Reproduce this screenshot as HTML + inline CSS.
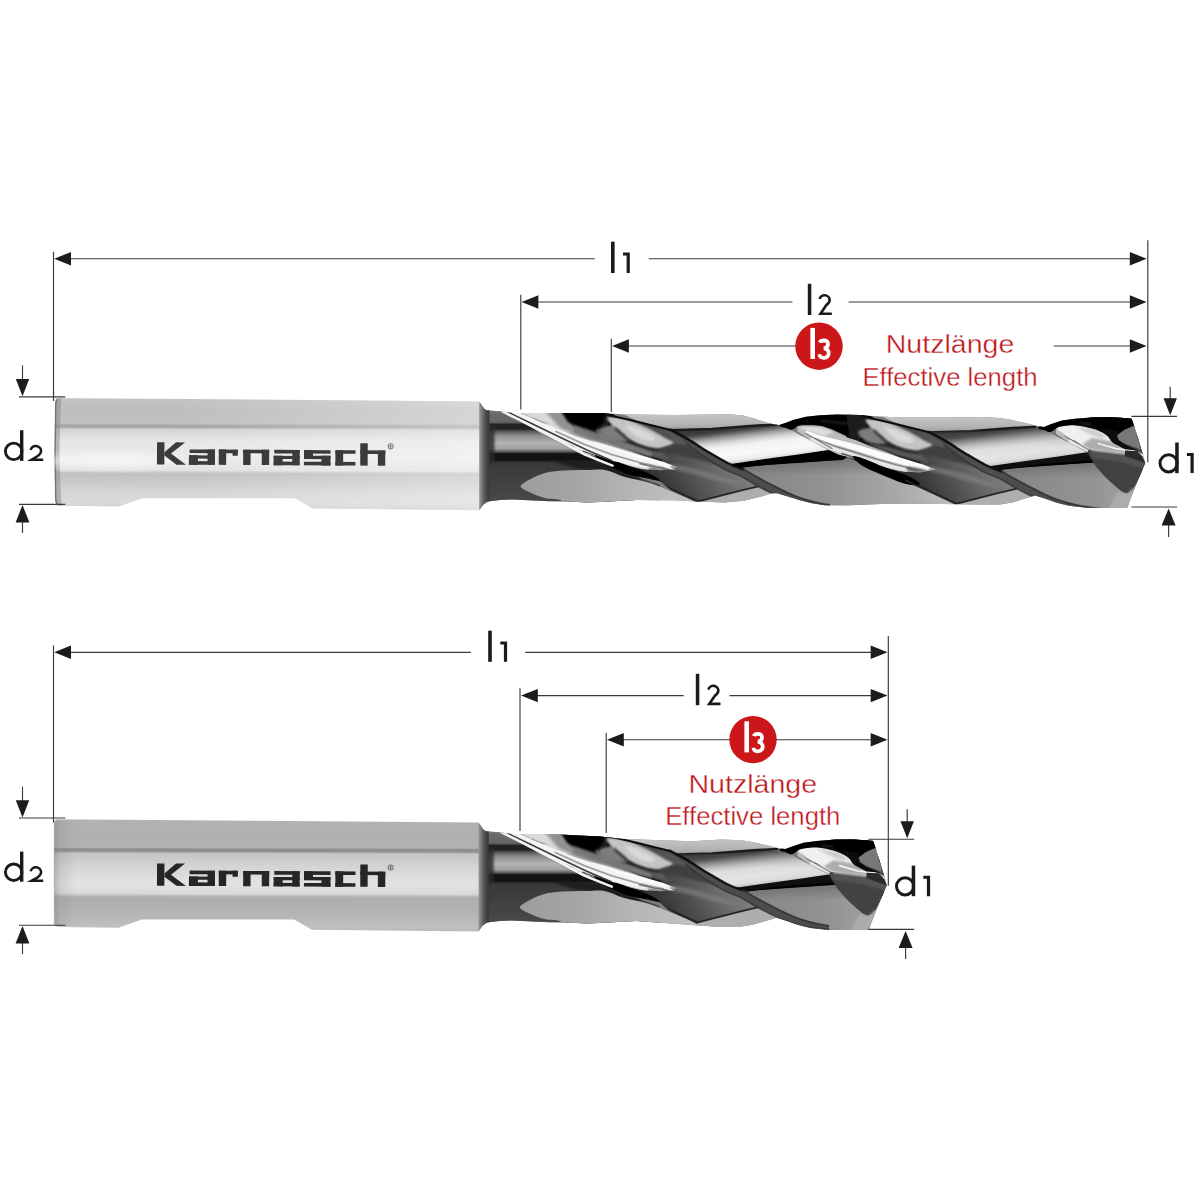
<!DOCTYPE html>
<html><head><meta charset="utf-8"><title>Drill dimensions</title>
<style>
html,body{margin:0;padding:0;background:#fff;}
svg{display:block;}
.rt{font-family:"Liberation Sans",sans-serif;font-size:25.6px;fill:#bd141a;stroke:#fff;stroke-width:0.35px;}
</style></head><body>
<svg width="1200" height="1200" viewBox="0 0 1200 1200">
<defs>
<linearGradient id="sg1" gradientUnits="userSpaceOnUse" x1="0" y1="398" x2="0" y2="511" gradientTransform="rotate(0.12 55 450)"><stop offset="0.0000" stop-color="#d0d0d0"/><stop offset="0.0115" stop-color="#c3c3c3"/><stop offset="0.1150" stop-color="#bebebe"/><stop offset="0.2239" stop-color="#c0c0c0"/><stop offset="0.2372" stop-color="#a8a8a8"/><stop offset="0.2593" stop-color="#a8a8a8"/><stop offset="0.2743" stop-color="#d3d3d3"/><stop offset="0.3805" stop-color="#e6e6e6"/><stop offset="0.5221" stop-color="#ebebeb"/><stop offset="0.6372" stop-color="#e2e2e2"/><stop offset="0.6637" stop-color="#c0c0c0"/><stop offset="0.6920" stop-color="#c3c3c3"/><stop offset="0.8407" stop-color="#d6d6d6"/><stop offset="0.9292" stop-color="#dadada"/><stop offset="0.9602" stop-color="#d2d2d2"/><stop offset="1.0000" stop-color="#d0d0d0"/></linearGradient><linearGradient id="shlsg1" gradientUnits="userSpaceOnUse" x1="180" y1="0" x2="480" y2="0"><stop offset="0" stop-color="#fff" stop-opacity="0"/><stop offset="1" stop-color="#fff" stop-opacity="0.36"/></linearGradient><linearGradient id="sg2" gradientUnits="userSpaceOnUse" x1="0" y1="819.2" x2="0" y2="932.2" gradientTransform="rotate(0.12 55 871.2)"><stop offset="0.0000" stop-color="#bebebe"/><stop offset="0.0115" stop-color="#b2b2b2"/><stop offset="0.1150" stop-color="#b0b0b0"/><stop offset="0.2478" stop-color="#b2b2b2"/><stop offset="0.2619" stop-color="#8e8e8e"/><stop offset="0.2832" stop-color="#909090"/><stop offset="0.2991" stop-color="#c4c4c4"/><stop offset="0.4159" stop-color="#d4d4d4"/><stop offset="0.5664" stop-color="#e3e3e3"/><stop offset="0.6549" stop-color="#dadada"/><stop offset="0.6814" stop-color="#b4b4b4"/><stop offset="0.7027" stop-color="#aeaeae"/><stop offset="0.8584" stop-color="#b6b6b6"/><stop offset="0.9469" stop-color="#c0c0c0"/><stop offset="0.9690" stop-color="#bcbcbc"/><stop offset="1.0000" stop-color="#b8b8b8"/></linearGradient><linearGradient id="shlsg2" gradientUnits="userSpaceOnUse" x1="180" y1="0" x2="480" y2="0"><stop offset="0" stop-color="#fff" stop-opacity="0"/><stop offset="1" stop-color="#fff" stop-opacity="0.36"/></linearGradient><linearGradient id="shd" x1="0" x2="1" y1="0" y2="0"><stop offset="0" stop-color="#777" stop-opacity="0.45"/><stop offset="0.3" stop-color="#888" stop-opacity="0.2"/><stop offset="1" stop-color="#888" stop-opacity="0"/></linearGradient><clipPath id="sil1"><polygon points="479.5,401.9 481.0,404.0 484.0,408.5 486.5,410.2 492.0,410.8 500.0,411.3 512.5,413.0 550.0,413.1 600.0,413.1 625.0,414.6 675.0,415.0 712.0,414.4 730.0,414.3 743.0,415.6 755.0,418.8 767.0,422.7 775.0,424.6 779.0,425.0 786.0,422.7 793.0,420.0 806.0,416.8 820.0,415.2 837.0,414.4 860.0,415.0 875.0,416.2 900.0,417.5 950.0,417.6 980.0,417.0 1000.0,418.1 1012.0,420.0 1025.0,423.1 1037.0,426.1 1044.0,426.9 1050.0,424.6 1062.0,420.6 1075.0,418.8 1094.0,417.3 1112.0,417.2 1131.5,418.6 1134.0,425.5 1139.0,441.5 1142.7,454.0 1145.2,463.0 1137.5,481.3 1130.0,500.0 1127.5,507.6 1100.0,507.9 1087.0,507.7 1069.0,505.8 1056.0,502.6 1044.0,498.2 1035.0,495.6 1025.0,498.6 1012.0,502.4 1000.0,504.4 975.0,504.6 925.0,503.8 887.0,503.8 850.0,505.2 825.0,505.2 812.0,503.2 800.0,500.2 787.0,496.3 777.0,493.2 772.0,493.2 762.0,496.3 744.0,500.7 725.0,502.5 695.0,501.6 675.0,500.2 637.0,500.0 600.0,501.9 587.0,502.5 562.0,501.3 550.0,501.2 512.5,499.4 500.0,500.0 487.5,501.4 483.0,505.0 479.5,510.0"/></clipPath>
<clipPath id="sil2"><polygon points="478.8,822.9 480.3,825.0 483.3,829.5 485.8,831.2 491.3,831.8 499.3,832.3 511.8,834.0 549.3,834.1 599.3,836.4 624.3,839.0 691.5,841.2 721.5,839.5 741.5,840.3 753.5,842.2 766.5,845.3 778.5,848.3 785.5,849.1 791.5,846.8 803.5,842.8 816.5,841.0 835.5,839.5 853.5,839.4 873.0,840.8 875.5,847.7 880.5,863.7 884.2,876.2 886.7,885.2 879.0,903.5 871.5,922.2 869.0,929.8 841.5,930.1 828.5,929.9 810.5,928.0 797.5,924.8 785.5,920.4 776.5,917.8 766.5,920.8 753.5,924.6 741.5,926.6 716.5,926.8 636.3,921.0 599.3,922.9 586.3,923.5 561.3,922.3 549.3,922.2 511.8,920.4 499.3,921.0 486.8,922.4 482.3,926.0 478.8,931.0"/></clipPath>
<filter id="b1" x="-30%" y="-30%" width="160%" height="160%"><feGaussianBlur stdDeviation="0.6"/></filter>
<filter id="b2" x="-30%" y="-30%" width="160%" height="160%"><feGaussianBlur stdDeviation="1.1"/></filter>
<filter id="b3" x="-30%" y="-30%" width="160%" height="160%"><feGaussianBlur stdDeviation="1.8"/></filter>
<filter id="b4" x="-30%" y="-30%" width="160%" height="160%"><feGaussianBlur stdDeviation="3.0"/></filter>
<filter id="b5" x="-30%" y="-30%" width="160%" height="160%"><feGaussianBlur stdDeviation="5.0"/></filter>
<linearGradient id="neckg" gradientUnits="userSpaceOnUse" x1="0" y1="410" x2="0" y2="504"><stop offset="0" stop-color="#8a8a8a"/><stop offset="0.03" stop-color="#6c6c6c"/><stop offset="0.13" stop-color="#646464"/><stop offset="0.155" stop-color="#222"/><stop offset="0.2" stop-color="#222"/><stop offset="0.225" stop-color="#555"/><stop offset="0.27" stop-color="#8c8c8c"/><stop offset="0.35" stop-color="#b4b4b4"/><stop offset="0.41" stop-color="#a0a0a0"/><stop offset="0.445" stop-color="#5a5a5a"/><stop offset="0.465" stop-color="#121212"/><stop offset="0.53" stop-color="#121212"/><stop offset="0.56" stop-color="#383838"/><stop offset="0.8" stop-color="#424242"/><stop offset="1" stop-color="#4a4a4a"/></linearGradient>
<linearGradient id="landg" gradientUnits="userSpaceOnUse" x1="757" y1="426" x2="762" y2="466.5"><stop offset="0" stop-color="#3a3a3a"/><stop offset="0.06" stop-color="#4c4c4c"/><stop offset="0.18" stop-color="#9a9a9a"/><stop offset="0.3" stop-color="#d4d4d4"/><stop offset="0.42" stop-color="#f2f2f2"/><stop offset="0.62" stop-color="#f8f8f8"/><stop offset="0.76" stop-color="#eeeeee"/><stop offset="0.83" stop-color="#cfcfcf"/><stop offset="0.885" stop-color="#858585"/><stop offset="0.915" stop-color="#1c1c1c"/><stop offset="1" stop-color="#050505"/></linearGradient>
<linearGradient id="underg" gradientUnits="userSpaceOnUse" x1="745" y1="0" x2="960" y2="0"><stop offset="0" stop-color="#858585"/><stop offset="0.4" stop-color="#939393"/><stop offset="0.7" stop-color="#a8a8a8"/><stop offset="1" stop-color="#c2c2c2"/></linearGradient>
<linearGradient id="undertop" gradientUnits="userSpaceOnUse" x1="0" y1="456" x2="0" y2="476"><stop offset="0" stop-color="#3a3a3a" stop-opacity="0.45"/><stop offset="1" stop-color="#3a3a3a" stop-opacity="0"/></linearGradient>
<linearGradient id="ellg" gradientUnits="userSpaceOnUse" x1="520" y1="0" x2="700" y2="0"><stop offset="0" stop-color="#9c9c9c"/><stop offset="0.35" stop-color="#a6a6a6"/><stop offset="0.6" stop-color="#b4b4b4"/><stop offset="1" stop-color="#c4c4c4"/></linearGradient>
<linearGradient id="chg" gradientUnits="userSpaceOnUse" x1="479.5" y1="0" x2="489.5" y2="0"><stop offset="0" stop-color="#969696"/><stop offset="0.3" stop-color="#707070"/><stop offset="0.65" stop-color="#4a4a4a"/><stop offset="1" stop-color="#383838"/></linearGradient>
<linearGradient id="dimg" gradientUnits="userSpaceOnUse" x1="0" y1="428" x2="0" y2="468"><stop offset="0" stop-color="#4a4a4a" stop-opacity="0.42"/><stop offset="0.45" stop-color="#666" stop-opacity="0.16"/><stop offset="1" stop-color="#777" stop-opacity="0.12"/></linearGradient>
<linearGradient id="capg" gradientUnits="userSpaceOnUse" x1="0" y1="414" x2="0" y2="431"><stop offset="0" stop-color="#c6c6c6"/><stop offset="0.6" stop-color="#b4b4b4"/><stop offset="1" stop-color="#989898"/></linearGradient>
<linearGradient id="intg" gradientUnits="userSpaceOnUse" x1="1000" y1="440" x2="900" y2="500"><stop offset="0" stop-color="#8a8a8a"/><stop offset="0.3" stop-color="#6c6c6c"/><stop offset="0.6" stop-color="#4a4a4a"/><stop offset="0.85" stop-color="#2e2e2e"/><stop offset="1" stop-color="#1c1c1c"/></linearGradient>
<g id="uA"><polygon points="736.0,466.0 790.0,461.0 843.8,458.6 850.0,458.8 862.0,463.0 875.0,470.0 906.0,481.0 930.0,492.0 956.0,504.0 960.0,512.0 780.0,512.0 800.0,501.0 781.0,492.5 762.5,481.0 748.0,472.0" fill="url(#underg)"/><polygon points="736.0,458.0 850.0,450.0 880.0,468.0 906.0,481.0 915.0,486.0 736.0,486.0" fill="url(#undertop)"/><polygon points="668.0,429.5 700.0,428.4 750.0,425.6 785.0,426.6 800.0,435.0 829.0,450.3 845.0,457.5 843.0,460.0 790.0,463.0 736.0,467.5 728.0,463.5 706.0,451.0 687.5,438.8" fill="url(#landg)"/><polygon points="622.0,410.0 780.0,410.0 780.0,425.0 775.0,424.6 750.0,425.8 712.0,428.9 670.0,430.2 641.0,422.5 625.0,415.0" fill="url(#capg)"/><polyline points="669.0,430.4 712.0,429.0 750.0,426.0 777.0,424.6" fill="none" stroke="#1e1e1e" stroke-width="2.6" stroke-linecap="round" stroke-linejoin="round" filter="url(#b1)"/><polygon points="731.0,464.0 760.0,459.8 800.0,454.2 830.0,449.8 848.0,456.6 843.8,459.2 800.0,462.8 760.0,465.6 738.0,468.2" fill="#050505" filter="url(#b1)"/></g>
<g id="uB"><polygon points="846.0,434.0 862.0,416.0 900.0,425.0 928.5,432.3 946.5,441.9 964.5,453.3 985.8,465.6 1001.8,472.0 1030.0,487.5 1020.0,491.0 1000.0,492.5 956.0,503.8 930.0,492.0 906.0,481.0 875.0,470.0 850.0,458.0" fill="url(#intg)"/><path d="M779.0,425.4 C779.0,424.4 781.5,423.8 786.0,422.2 C790.5,420.6 797.5,417.4 806.0,416.0 C814.5,414.6 828.0,413.9 837.0,413.6 C846.0,413.3 854.2,413.9 860.0,414.4 C865.8,414.9 869.7,415.3 872.0,416.6 C874.3,417.9 874.7,420.1 874.0,422.0 C873.3,423.9 869.7,426.0 868.0,428.0 C866.3,430.0 864.3,432.0 864.0,434.0 C863.7,436.0 867.0,439.0 866.0,440.0 C865.0,441.0 861.2,440.7 858.0,440.0 C854.8,439.3 851.0,437.6 847.0,436.0 C843.0,434.4 838.5,431.9 834.0,430.2 C829.5,428.5 824.7,426.7 820.0,425.8 C815.3,424.9 809.7,424.9 806.0,425.0 C802.3,425.1 800.3,425.4 798.0,426.2 C795.7,427.0 794.0,429.5 792.0,429.8 C790.0,430.1 788.2,428.7 786.0,428.0 C783.8,427.3 779.0,426.4 779.0,425.4Z" fill="#050505" filter="url(#b1)"/><polyline points="822.0,421.0 846.0,423.5 866.0,428.0" fill="none" stroke="#3a3a3a" stroke-width="1.6" stroke-linecap="round" stroke-linejoin="round" opacity="0.8" filter="url(#b2)"/><polygon points="846.0,412.0 860.0,412.0 868.0,418.5 866.0,430.0 860.0,440.0 850.0,440.0" fill="#1a1a1a" filter="url(#b1)"/><path d="M858.0,432.0 C858.7,429.8 865.7,428.0 870.0,428.0 C874.3,428.0 880.7,429.8 884.0,432.0 C887.3,434.2 890.7,439.0 890.0,441.0 C889.3,443.0 884.0,444.0 880.0,444.0 C876.0,444.0 869.7,443.0 866.0,441.0 C862.3,439.0 857.3,434.2 858.0,432.0Z" fill="#7c7c7c" filter="url(#b2)"/><polygon points="797.5,426.2 822.5,426.6 835.0,431.6 847.5,437.4 856.0,440.0 868.0,445.0 885.0,451.0 900.0,457.2 920.0,463.4 931.0,467.6 936.0,469.4 920.0,472.5 900.0,471.3 875.0,465.5 850.0,457.5 838.0,454.5 828.8,450.0 810.0,440.0 797.5,431.6" fill="#bcbcbc" filter="url(#b1)"/><polygon points="797.5,426.4 816.0,426.4 834.0,431.8 824.0,436.0 806.0,430.4" fill="#e2e2e2" opacity="0.9" filter="url(#b2)"/><polygon points="806.0,430.6 820.0,435.4 840.0,440.2 860.0,445.5 880.0,451.5 900.0,457.5 920.0,463.5 931.0,467.8 928.0,470.0 920.0,469.0 900.0,464.0 880.0,458.5 860.0,452.0 840.0,446.0 820.0,440.6 806.0,434.0" fill="#fbfbfb" filter="url(#b1)"/><polyline points="812.0,439.0 832.0,448.3 850.0,454.2 870.0,460.6 890.0,466.2 906.0,470.0" fill="none" stroke="#e9e9e9" stroke-width="3.6" stroke-linecap="round" stroke-linejoin="round" opacity="0.95" filter="url(#b1)"/><polyline points="815.0,438.2 836.0,446.6 856.0,452.6 876.0,459.0 896.0,464.8 912.0,468.8" fill="none" stroke="#6c6c6c" stroke-width="1.1" stroke-linecap="round" stroke-linejoin="round" opacity="0.8" filter="url(#b1)"/><polyline points="806.0,433.5 820.0,441.5 832.0,448.5" fill="none" stroke="#5a5a5a" stroke-width="1.1" stroke-linecap="round" stroke-linejoin="round" opacity="0.8" filter="url(#b1)"/><polyline points="842.0,453.4 860.0,459.2 876.0,464.6" fill="none" stroke="#3c3c3c" stroke-width="1.6" stroke-linecap="round" stroke-linejoin="round" opacity="0.8" filter="url(#b1)"/><polyline points="847.5,436.6 856.0,439.2 868.0,444.2 885.0,450.2 900.0,456.4 920.0,462.6" fill="none" stroke="#181818" stroke-width="1.8" stroke-linecap="round" stroke-linejoin="round" opacity="0.85" filter="url(#b1)"/><polygon points="866.0,444.0 876.0,445.0 890.0,447.5 906.0,451.0 920.0,453.5 930.0,463.0 900.0,456.0 880.0,449.5" fill="#5c5c5c" opacity="0.9" filter="url(#b2)"/><path d="M866.0,419.5 C868.0,418.2 877.3,419.2 884.0,421.0 C890.7,422.8 899.2,427.0 906.0,430.3 C912.8,433.6 920.7,438.5 925.0,441.0 C929.3,443.5 932.8,443.9 932.0,445.5 C931.2,447.1 924.3,449.9 920.0,450.5 C915.7,451.1 910.8,450.4 906.0,449.2 C901.2,448.0 895.0,445.7 891.0,443.5 C887.0,441.3 885.2,438.4 882.0,436.0 C878.8,433.6 874.7,431.6 872.0,428.8 C869.3,426.1 864.0,420.8 866.0,419.5Z" fill="#c4c4c4" filter="url(#b2)"/><path d="M884.0,427.0 C885.2,426.2 895.0,429.8 900.0,432.0 C905.0,434.2 913.0,438.2 914.0,440.0 C915.0,441.8 909.5,443.5 906.0,443.0 C902.5,442.5 896.7,439.7 893.0,437.0 C889.3,434.3 882.8,427.8 884.0,427.0Z" fill="#dcdcdc" opacity="0.9" filter="url(#b2)"/><path d="M874.0,430.5 C875.0,431.4 878.0,434.2 880.0,436.0 C882.0,437.8 883.8,439.8 886.0,441.5 C888.2,443.2 889.8,444.5 893.0,446.0 C896.2,447.5 900.8,449.4 905.0,450.5 C909.2,451.6 915.8,452.2 918.0,452.5" fill="none" stroke="#181818" stroke-width="2.2" stroke-linecap="round" opacity="0.8" filter="url(#b2)"/><path d="M917.5,452.5 C915.5,450.8 924.7,448.5 928.0,447.5 C931.3,446.5 933.0,445.9 937.5,446.3 C942.0,446.7 949.6,448.1 955.0,450.0 C960.4,451.9 965.7,455.1 970.0,458.0 C974.3,460.9 982.7,466.7 981.0,467.5 C979.3,468.3 966.8,464.6 960.0,463.0 C953.2,461.4 947.1,459.8 940.0,458.0 C932.9,456.2 919.5,454.2 917.5,452.5Z" fill="#3c3c3c" opacity="0.9" filter="url(#b2)"/><path d="M853.0,456.5 C853.1,455.3 858.0,456.7 862.5,458.2 C867.0,459.7 872.8,462.6 880.0,465.4 C887.2,468.2 899.3,471.9 906.0,475.0 C912.7,478.1 920.0,482.5 920.0,484.0 C920.0,485.5 912.7,485.7 906.0,484.0 C899.3,482.3 887.3,477.1 880.0,474.0 C872.7,470.9 866.5,468.5 862.0,465.6 C857.5,462.7 852.9,457.7 853.0,456.5Z" fill="#060606" filter="url(#b1)"/><polyline points="906.0,480.5 930.0,491.5 956.0,503.6" fill="none" stroke="#222" stroke-width="2.4" stroke-linecap="round" stroke-linejoin="round" opacity="0.9" filter="url(#b1)"/><path d="M907.0,467.0 C908.7,466.7 914.7,467.5 918.0,468.2 C921.3,468.9 927.3,470.4 927.0,471.0 C926.7,471.6 919.2,472.0 916.0,471.8 C912.8,471.6 909.5,470.8 908.0,470.0 C906.5,469.2 905.3,467.3 907.0,467.0Z" fill="#444" opacity="0.8" filter="url(#b2)"/><path d="M930.0,466.5 C933.0,466.2 942.5,468.2 950.0,470.0 C957.5,471.8 966.7,474.2 975.0,477.0 C983.3,479.8 1000.0,486.0 1000.0,487.0 C1000.0,488.0 983.3,484.8 975.0,483.0 C966.7,481.2 957.2,477.9 950.0,476.0 C942.8,474.1 935.3,473.1 932.0,471.5 C928.7,469.9 927.0,466.8 930.0,466.5Z" fill="#8a8a8a" opacity="0.55" filter="url(#b3)"/><polygon points="956.0,504.2 1000.0,493.0 1018.0,489.0 1045.0,500.0 1045.0,512.0 956.0,512.0" fill="#aeaeae"/><polyline points="956.0,503.8 1000.0,492.6 1017.0,488.6" fill="none" stroke="#1e1e1e" stroke-width="1.8" stroke-linecap="round" stroke-linejoin="round" opacity="0.9" filter="url(#b1)"/><path d="M928.7,431.9 C931.8,433.3 940.7,438.1 946.7,441.6 C952.7,445.1 958.2,449.0 964.7,453.0 C971.3,456.9 979.8,462.1 986.0,465.2 C992.2,468.4 997.1,469.3 1002.0,471.6 C1006.8,474.0 1010.5,476.6 1015.2,479.1 C1019.9,481.7 1025.2,484.6 1030.2,487.1 C1035.2,489.7 1040.2,492.4 1045.2,494.6 C1050.2,496.9 1054.6,498.8 1060.1,500.6 C1065.6,502.4 1071.8,504.1 1078.1,505.4 C1084.4,506.7 1091.7,507.6 1098.0,508.4 C1104.4,509.2 1111.4,509.6 1116.0,510.0 C1120.7,510.4 1124.4,510.5 1126.0,510.6 C1127.7,510.7 1127.7,510.7 1126.0,510.8 C1124.3,510.9 1120.7,510.9 1116.0,511.0 C1111.2,511.1 1104.2,511.4 1097.7,511.2 C1091.3,511.0 1083.8,510.5 1077.2,509.7 C1070.6,508.9 1064.1,507.8 1058.3,506.3 C1052.4,504.9 1047.5,503.1 1042.3,501.0 C1037.0,498.9 1031.9,496.3 1026.8,493.7 C1021.7,491.2 1016.3,488.2 1011.6,485.6 C1007.0,483.0 1003.7,480.5 998.9,478.1 C994.1,475.8 989.1,474.8 982.8,471.5 C976.6,468.2 968.0,462.5 961.6,458.1 C955.2,453.7 950.1,449.4 944.5,445.4 C938.8,441.3 930.4,435.9 927.7,433.7 C925.1,431.5 925.5,430.6 928.7,431.9Z" fill="#4e4e4e" filter="url(#b1)"/><path d="M928.7,431.9 C931.7,433.5 940.7,438.1 946.7,441.6 C952.7,445.1 958.2,449.0 964.7,453.0 C971.3,456.9 979.8,462.1 986.0,465.2 C992.2,468.4 999.3,470.6 1002.0,471.6" fill="none" stroke="#0c0c0c" stroke-width="2.4" stroke-linecap="round" opacity="0.95" filter="url(#b1)"/><path d="M1002.0,471.6 C1004.2,472.9 1010.5,476.6 1015.2,479.1 C1019.9,481.7 1025.2,484.6 1030.2,487.1 C1035.2,489.7 1040.2,492.4 1045.2,494.6 C1050.2,496.9 1054.6,498.8 1060.1,500.6 C1065.6,502.4 1071.8,504.1 1078.1,505.4 C1084.4,506.7 1091.7,507.6 1098.0,508.4 C1104.4,509.2 1111.4,509.6 1116.0,510.0 C1120.7,510.4 1124.4,510.5 1126.0,510.6" fill="none" stroke="#343434" stroke-width="1.8" stroke-linecap="round" opacity="0.9" filter="url(#b1)"/><path d="M944.5,445.4 C947.3,447.5 955.2,453.7 961.6,458.1 C968.0,462.5 976.6,468.2 982.8,471.5 C989.1,474.8 994.1,475.8 998.9,478.1 C1003.7,480.5 1007.0,483.0 1011.6,485.6 C1016.3,488.2 1021.7,491.2 1026.8,493.7 C1031.9,496.3 1037.0,498.9 1042.3,501.0 C1047.5,503.1 1052.4,504.9 1058.3,506.3 C1064.1,507.8 1070.6,508.9 1077.2,509.7 C1083.8,510.5 1091.3,511.0 1097.7,511.2 C1104.2,511.4 1111.2,511.1 1116.0,511.0 C1120.7,510.9 1124.3,510.8 1126.0,510.8" fill="none" stroke="#363636" stroke-width="1.8" stroke-linecap="round" opacity="0.8" filter="url(#b1)"/><path d="M862.5,416.3 C865.6,417.0 874.8,419.1 881.0,420.5 C887.2,421.9 892.7,423.2 900.0,425.0 C907.3,426.8 920.2,430.1 925.0,431.3 C929.8,432.5 927.9,432.1 928.5,432.3" fill="none" stroke="#101010" stroke-width="2.2" stroke-linecap="round" filter="url(#b1)"/></g>
<clipPath id="cf1"><polygon points="503.0,400.0 830.0,400.0 830.0,515.0 700.0,515.0 660.0,481.0 625.0,474.0 600.0,466.5 585.0,455.0 550.0,436.5 520.0,421.0"/></clipPath>
</defs>
<rect width="1200" height="1200" fill="#fff"/>
<g id="drill1"><path d="M58,398.02 L479.7,401.4 L479.7,510.3 L312.5,508.53 L295,498.2 L142.5,498.2 L119,506.48 L59,505.84 Q55.5,505.2 55.2,500.8 L54.6,452 L55.2,403 Q55.5,398.6 58,398.02 Z" fill="url(#sg1)"/><path d="M58,398.02 L479.7,401.4 L479.7,510.3 L312.5,508.53 L295,498.2 L142.5,498.2 L119,506.48 L59,505.84 Q55.5,505.2 55.2,500.8 L54.6,452 L55.2,403 Q55.5,398.6 58,398.02 Z" fill="url(#shlsg1)"/><path d="M58,398 Q55.5,398.6 55.2,403 L54.6,452 L55.2,500.8 Q55.5,505.2 59,505.8 L61.5,505.8 Q59.6,475.8 59.6,452 Q59.6,423 61.5,398 Z" fill="#8a8a8a" opacity="0.5"/><path d="M57.0,399.5 Q55.9,401 55.7,406 L55.1,452 L55.7,497.8 Q55.9,502.8 57.4,504.6" fill="none" stroke="#6a6a6a" stroke-width="1.4" opacity="0.85"/><ellipse cx="110" cy="461" rx="70" ry="7" fill="#fff" opacity="0.5" filter="url(#b4)"/><g transform="rotate(0.3 55 452)"><g fill="#3b3b3b"><rect x="157.00" y="441.70" width="7.40" height="22.30"/><polygon points="164.40,451.60 176.00,441.70 185.00,441.70 171.00,453.00 186.00,464.00 176.60,464.00 164.40,455.00"/><rect x="189.60" y="448.70" width="25.40" height="3.60"/><rect x="207.60" y="448.70" width="7.40" height="15.30"/><rect x="189.00" y="454.60" width="26.00" height="3.20"/><rect x="189.00" y="454.60" width="9.00" height="9.40"/><rect x="189.00" y="460.40" width="26.00" height="3.60"/><rect x="218.80" y="448.70" width="7.40" height="15.30"/><rect x="218.80" y="448.70" width="19.00" height="3.60"/><rect x="232.60" y="448.70" width="5.20" height="6.00"/><rect x="243.20" y="448.70" width="7.40" height="15.30"/><rect x="243.20" y="448.70" width="26.00" height="3.60"/><rect x="261.80" y="448.70" width="7.40" height="15.30"/><rect x="274.30" y="448.70" width="25.40" height="3.60"/><rect x="292.30" y="448.70" width="7.40" height="15.30"/><rect x="273.70" y="454.60" width="26.00" height="3.20"/><rect x="273.70" y="454.60" width="9.00" height="9.40"/><rect x="273.70" y="460.40" width="26.00" height="3.60"/><rect x="304.00" y="448.70" width="26.50" height="3.60"/><rect x="304.00" y="448.70" width="9.00" height="8.80"/><rect x="304.00" y="454.40" width="26.50" height="3.40"/><rect x="321.50" y="454.40" width="9.00" height="9.60"/><rect x="304.00" y="460.40" width="26.50" height="3.60"/><rect x="335.40" y="448.70" width="7.80" height="15.30"/><rect x="335.40" y="448.70" width="20.10" height="3.60"/><rect x="335.40" y="460.40" width="20.10" height="3.60"/><rect x="360.30" y="441.70" width="7.40" height="22.30"/><rect x="360.30" y="448.70" width="25.00" height="3.60"/><rect x="377.90" y="448.70" width="7.40" height="15.30"/></g><circle cx="390.6" cy="444.59999999999997" r="2.6" fill="none" stroke="#555" stroke-width="0.9"/><rect x="389.7" y="443.4" width="1.6" height="2.4" fill="#555"/></g><g clip-path="url(#sil1)">
<rect x="478" y="395" width="680" height="120" fill="#7a7a7a"/>
<polygon points="486.0,405.0 503.0,405.0 520.0,418.0 540.0,433.0 573.0,450.0 600.0,462.0 640.0,478.0 660.0,485.0 660.0,512.0 486.0,512.0" fill="url(#neckg)"/><polygon points="486.0,425.0 494.5,425.0 494.5,462.0 486.0,462.0" fill="#2c2c2c" opacity="0.8" filter="url(#b2)"/><polygon points="479.0,400.0 482.0,400.0 489.5,410.0 489.5,502.0 482.0,512.0 479.0,512.0" fill="url(#chg)"/><polygon points="548.0,459.0 600.0,462.0 640.0,478.0 640.0,486.0 605.0,471.0 575.0,468.0" fill="#1a1a1a" opacity="0.9" filter="url(#b2)"/><path d="M520.6,486.3 C520.6,483.9 527.2,481.0 531.3,478.8 C535.4,476.6 539.8,474.5 545.0,473.1 C550.2,471.7 555.4,471.1 562.5,470.6 C569.6,470.1 580.4,470.1 587.5,470.0 C594.6,469.9 598.8,468.8 605.0,470.0 C611.2,471.2 617.5,474.8 625.0,477.0 C632.5,479.2 641.7,480.3 650.0,483.0 C658.3,485.7 667.2,489.7 675.0,493.0 C682.8,496.3 692.8,499.3 697.0,503.0 C701.2,506.7 722.8,513.0 700.0,515.0 C677.2,517.0 582.9,517.3 560.0,515.0 C537.1,512.7 565.0,504.1 562.5,501.3 C560.0,498.5 550.2,499.5 545.0,498.1 C539.8,496.7 535.4,495.1 531.3,493.1 C527.2,491.1 520.6,488.7 520.6,486.3Z" fill="url(#ellg)"/>
<use href="#uA"/>
<g transform="translate(258.5,2.25)"><use href="#uA"/></g>
<polygon points="928.0,432.0 1000.0,431.0 1043.0,428.5 1060.0,437.0 1092.0,452.0 1093.0,460.0 1040.0,464.0 996.0,470.0 986.0,466.0 964.0,453.5 946.0,442.0" fill="url(#dimg)"/>
<g clip-path="url(#cf1)"><g transform="translate(-258.5,-2.25)"><use href="#uB"/></g></g>
<polygon points="503.0,405.0 556.0,405.0 568.0,418.0 574.0,430.0 556.0,427.0 540.0,422.0" fill="#dadada" filter="url(#b2)"/><polygon points="540.0,405.0 575.0,405.0 610.0,442.0 590.0,440.0 560.0,428.0" fill="#8a8a8a" opacity="0.9" filter="url(#b3)"/><polygon points="557.0,405.0 606.0,405.0 604.0,422.0 596.0,430.0 601.0,440.0 583.0,431.0 568.0,422.0" fill="#040404" filter="url(#b2)"/><polygon points="510.0,411.0 520.0,413.0 550.0,426.0 587.5,441.0 612.0,449.0 640.0,458.2 662.0,465.0 676.0,469.4 660.0,469.0 640.0,466.0 612.5,461.0 587.5,452.0 550.0,436.0 530.0,426.0 514.0,416.0" fill="#f4f4f4" filter="url(#b1)"/><polyline points="556.0,431.5 585.0,444.6 612.0,454.6 640.0,462.6 664.0,468.0" fill="none" stroke="#8c8c8c" stroke-width="1.8" stroke-linecap="round" stroke-linejoin="round" opacity="0.8" filter="url(#b1)"/><polyline points="640.0,463.8 655.0,467.2 668.0,469.0" fill="none" stroke="#4a4a4a" stroke-width="1.6" stroke-linecap="round" stroke-linejoin="round" opacity="0.7" filter="url(#b1)"/><polygon points="574.0,425.0 600.0,433.5 630.0,444.0 652.0,452.5 652.0,457.0 625.0,449.6 600.0,442.0 574.0,433.0" fill="#7a7a7a" opacity="0.95" filter="url(#b2)"/><polyline points="509.0,412.8 530.0,422.8 560.0,437.3 587.5,450.3 612.0,460.8" fill="none" stroke="#2a2a2a" stroke-width="1.6" stroke-linecap="round" stroke-linejoin="round" opacity="0.9" filter="url(#b1)"/><polyline points="502.0,411.2 520.0,420.2 550.0,435.8 585.0,454.6 612.5,465.6" fill="none" stroke="#f2f2f2" stroke-width="2.6" stroke-linecap="round" stroke-linejoin="round" filter="url(#b1)"/>
<use href="#uB"/>
<g transform="translate(258.5,2.25)"><use href="#uB"/></g>
<path d="M1090.0,449.5 C1095.4,448.3 1115.7,451.6 1125.0,453.8 C1134.3,456.0 1143.8,458.0 1146.0,462.5 C1148.2,467.0 1141.2,475.9 1138.0,481.0 C1134.8,486.1 1131.2,492.8 1127.0,493.3 C1122.8,493.8 1117.0,487.5 1112.5,483.8 C1108.0,480.1 1103.3,475.1 1100.0,471.3 C1096.7,467.5 1094.2,464.6 1092.5,461.0 C1090.8,457.4 1084.6,450.7 1090.0,449.5Z" fill="#424242"/><polygon points="1090.0,449.5 1125.0,453.8 1146.0,462.5 1143.0,468.0 1120.0,462.0 1092.0,458.0" fill="#5a5a5a" opacity="0.7" filter="url(#b2)"/><polygon points="1127.5,494.0 1133.0,487.0 1131.0,500.0 1128.0,509.0 1108.0,509.0 1118.0,492.0" fill="#b2b2b2" opacity="0.7" filter="url(#b2)"/><path d="M1057.5,427.8 C1059.7,426.6 1068.8,425.1 1075.0,425.4 C1081.2,425.7 1089.6,427.8 1095.0,429.6 C1100.4,431.4 1104.6,433.9 1107.5,436.0 C1110.4,438.1 1109.6,440.4 1112.5,442.5 C1115.4,444.6 1121.1,447.1 1125.0,448.6 C1128.9,450.1 1136.0,450.5 1136.0,451.3 C1136.0,452.1 1129.7,453.5 1125.0,453.6 C1120.3,453.7 1113.8,452.7 1108.0,452.0 C1102.2,451.3 1095.5,451.1 1090.0,449.2 C1084.5,447.3 1079.7,443.3 1075.0,440.5 C1070.3,437.7 1064.9,434.7 1062.0,432.6 C1059.1,430.5 1055.3,429.0 1057.5,427.8Z" fill="#f0f0f0" filter="url(#b1)"/><polygon points="1075.0,426.0 1096.0,430.0 1108.0,437.0 1100.0,438.0 1085.0,432.0" fill="#c4c4c4" opacity="0.8" filter="url(#b2)"/><polygon points="1092.0,438.0 1110.0,441.0 1126.0,448.4 1136.0,451.4 1125.0,453.8 1106.0,452.0 1090.0,449.4 1082.0,444.5" fill="#9c9c9c" opacity="0.8" filter="url(#b2)"/><polyline points="1098.0,443.5 1116.0,448.6 1134.0,451.2" fill="none" stroke="#f4f4f4" stroke-width="1.8" stroke-linecap="round" stroke-linejoin="round" opacity="0.95" filter="url(#b1)"/><polygon points="1088.0,414.0 1136.0,414.0 1136.0,427.0 1125.0,429.5 1117.5,435.0 1112.0,434.0 1104.0,429.0 1092.0,426.2" fill="#060606" filter="url(#b1)"/><polygon points="1117.5,435.0 1125.0,429.5 1132.5,426.3 1134.0,425.5 1140.5,449.5 1125.0,443.8 1118.8,440.0" fill="#787878"/><polygon points="1100.0,428.0 1118.0,431.5 1117.0,436.0 1118.5,441.0 1125.0,445.0 1139.0,450.4 1125.0,449.2 1113.0,443.0 1108.0,436.5" fill="#101010" filter="url(#b1)"/><polygon points="1125.0,450.5 1137.0,451.0 1143.0,457.0 1145.0,463.0 1125.0,456.0" fill="#2a2a2a" filter="url(#b1)"/><polyline points="1092.0,450.6 1110.0,452.8 1124.0,454.6" fill="none" stroke="#909090" stroke-width="1.4" stroke-linecap="round" stroke-linejoin="round" opacity="0.9" filter="url(#b1)"/>
</g>
</g>
<g id="drill2"><path d="M57.3,819.22 L479.0,822.5999999999999 L479.0,931.5 L311.8,929.73 L294.3,919.4 L141.8,919.4 L118.3,927.68 L58.3,927.04 Q54.8,926.4 54.5,922.0 L53.9,873.2 L54.5,824.2 Q54.8,819.8000000000001 57.3,819.22 Z" fill="url(#sg2)"/><rect x="53.8" y="820.2" width="22" height="105.79999999999995" fill="url(#shd)"/><g transform="rotate(0.3 54 873)"><g fill="#262626"><rect x="157.00" y="862.90" width="7.40" height="22.30"/><polygon points="164.40,872.80 176.00,862.90 185.00,862.90 171.00,874.20 186.00,885.20 176.60,885.20 164.40,876.20"/><rect x="189.60" y="869.90" width="25.40" height="3.60"/><rect x="207.60" y="869.90" width="7.40" height="15.30"/><rect x="189.00" y="875.80" width="26.00" height="3.20"/><rect x="189.00" y="875.80" width="9.00" height="9.40"/><rect x="189.00" y="881.60" width="26.00" height="3.60"/><rect x="218.80" y="869.90" width="7.40" height="15.30"/><rect x="218.80" y="869.90" width="19.00" height="3.60"/><rect x="232.60" y="869.90" width="5.20" height="6.00"/><rect x="243.20" y="869.90" width="7.40" height="15.30"/><rect x="243.20" y="869.90" width="26.00" height="3.60"/><rect x="261.80" y="869.90" width="7.40" height="15.30"/><rect x="274.30" y="869.90" width="25.40" height="3.60"/><rect x="292.30" y="869.90" width="7.40" height="15.30"/><rect x="273.70" y="875.80" width="26.00" height="3.20"/><rect x="273.70" y="875.80" width="9.00" height="9.40"/><rect x="273.70" y="881.60" width="26.00" height="3.60"/><rect x="304.00" y="869.90" width="26.50" height="3.60"/><rect x="304.00" y="869.90" width="9.00" height="8.80"/><rect x="304.00" y="875.60" width="26.50" height="3.40"/><rect x="321.50" y="875.60" width="9.00" height="9.60"/><rect x="304.00" y="881.60" width="26.50" height="3.60"/><rect x="335.40" y="869.90" width="7.80" height="15.30"/><rect x="335.40" y="869.90" width="20.10" height="3.60"/><rect x="335.40" y="881.60" width="20.10" height="3.60"/><rect x="360.30" y="862.90" width="7.40" height="22.30"/><rect x="360.30" y="869.90" width="25.00" height="3.60"/><rect x="377.90" y="869.90" width="7.40" height="15.30"/></g><circle cx="390.6" cy="865.8" r="2.6" fill="none" stroke="#555" stroke-width="0.9"/><rect x="389.7" y="864.6" width="1.6" height="2.4" fill="#555"/></g><g clip-path="url(#sil2)">
<rect x="478" y="815" width="420" height="120" fill="#7a7a7a"/>
<g transform="translate(-0.7,421.0)">
<polygon points="486.0,405.0 503.0,405.0 520.0,418.0 540.0,433.0 573.0,450.0 600.0,462.0 640.0,478.0 660.0,485.0 660.0,512.0 486.0,512.0" fill="url(#neckg)"/><polygon points="486.0,425.0 494.5,425.0 494.5,462.0 486.0,462.0" fill="#2c2c2c" opacity="0.8" filter="url(#b2)"/><polygon points="479.0,400.0 482.0,400.0 489.5,410.0 489.5,502.0 482.0,512.0 479.0,512.0" fill="url(#chg)"/><polygon points="548.0,459.0 600.0,462.0 640.0,478.0 640.0,486.0 605.0,471.0 575.0,468.0" fill="#1a1a1a" opacity="0.9" filter="url(#b2)"/><path d="M520.6,486.3 C520.6,483.9 527.2,481.0 531.3,478.8 C535.4,476.6 539.8,474.5 545.0,473.1 C550.2,471.7 555.4,471.1 562.5,470.6 C569.6,470.1 580.4,470.1 587.5,470.0 C594.6,469.9 598.8,468.8 605.0,470.0 C611.2,471.2 617.5,474.8 625.0,477.0 C632.5,479.2 641.7,480.3 650.0,483.0 C658.3,485.7 667.2,489.7 675.0,493.0 C682.8,496.3 692.8,499.3 697.0,503.0 C701.2,506.7 722.8,513.0 700.0,515.0 C677.2,517.0 582.9,517.3 560.0,515.0 C537.1,512.7 565.0,504.1 562.5,501.3 C560.0,498.5 550.2,499.5 545.0,498.1 C539.8,496.7 535.4,495.1 531.3,493.1 C527.2,491.1 520.6,488.7 520.6,486.3Z" fill="url(#ellg)"/>
</g>
<g transform="translate(-258.5,422.2)">
<g transform="translate(258.5,2.25)"><use href="#uA"/></g>
<polygon points="928.0,432.0 1000.0,431.0 1043.0,428.5 1060.0,437.0 1092.0,452.0 1093.0,460.0 1040.0,464.0 996.0,470.0 986.0,466.0 964.0,453.5 946.0,442.0" fill="url(#dimg)"/>
</g>
<g transform="translate(-0.7,421.0)">
<g clip-path="url(#cf1)"><g transform="translate(-258.5,-2.25)"><use href="#uB"/></g></g>
<polygon points="503.0,405.0 556.0,405.0 568.0,418.0 574.0,430.0 556.0,427.0 540.0,422.0" fill="#dadada" filter="url(#b2)"/><polygon points="540.0,405.0 575.0,405.0 610.0,442.0 590.0,440.0 560.0,428.0" fill="#8a8a8a" opacity="0.9" filter="url(#b3)"/><polygon points="557.0,405.0 606.0,405.0 604.0,422.0 596.0,430.0 601.0,440.0 583.0,431.0 568.0,422.0" fill="#040404" filter="url(#b2)"/><polygon points="510.0,411.0 520.0,413.0 550.0,426.0 587.5,441.0 612.0,449.0 640.0,458.2 662.0,465.0 676.0,469.4 660.0,469.0 640.0,466.0 612.5,461.0 587.5,452.0 550.0,436.0 530.0,426.0 514.0,416.0" fill="#f4f4f4" filter="url(#b1)"/><polyline points="556.0,431.5 585.0,444.6 612.0,454.6 640.0,462.6 664.0,468.0" fill="none" stroke="#8c8c8c" stroke-width="1.8" stroke-linecap="round" stroke-linejoin="round" opacity="0.8" filter="url(#b1)"/><polyline points="640.0,463.8 655.0,467.2 668.0,469.0" fill="none" stroke="#4a4a4a" stroke-width="1.6" stroke-linecap="round" stroke-linejoin="round" opacity="0.7" filter="url(#b1)"/><polygon points="574.0,425.0 600.0,433.5 630.0,444.0 652.0,452.5 652.0,457.0 625.0,449.6 600.0,442.0 574.0,433.0" fill="#7a7a7a" opacity="0.95" filter="url(#b2)"/><polyline points="509.0,412.8 530.0,422.8 560.0,437.3 587.5,450.3 612.0,460.8" fill="none" stroke="#2a2a2a" stroke-width="1.6" stroke-linecap="round" stroke-linejoin="round" opacity="0.9" filter="url(#b1)"/><polyline points="502.0,411.2 520.0,420.2 550.0,435.8 585.0,454.6 612.5,465.6" fill="none" stroke="#f2f2f2" stroke-width="2.6" stroke-linecap="round" stroke-linejoin="round" filter="url(#b1)"/>
</g>
<g transform="translate(-258.5,422.2)">
<g transform="translate(258.5,2.25)"><use href="#uB"/></g>
<path d="M1090.0,449.5 C1095.4,448.3 1115.7,451.6 1125.0,453.8 C1134.3,456.0 1143.8,458.0 1146.0,462.5 C1148.2,467.0 1141.2,475.9 1138.0,481.0 C1134.8,486.1 1131.2,492.8 1127.0,493.3 C1122.8,493.8 1117.0,487.5 1112.5,483.8 C1108.0,480.1 1103.3,475.1 1100.0,471.3 C1096.7,467.5 1094.2,464.6 1092.5,461.0 C1090.8,457.4 1084.6,450.7 1090.0,449.5Z" fill="#424242"/><polygon points="1090.0,449.5 1125.0,453.8 1146.0,462.5 1143.0,468.0 1120.0,462.0 1092.0,458.0" fill="#5a5a5a" opacity="0.7" filter="url(#b2)"/><polygon points="1127.5,494.0 1133.0,487.0 1131.0,500.0 1128.0,509.0 1108.0,509.0 1118.0,492.0" fill="#b2b2b2" opacity="0.7" filter="url(#b2)"/><path d="M1057.5,427.8 C1059.7,426.6 1068.8,425.1 1075.0,425.4 C1081.2,425.7 1089.6,427.8 1095.0,429.6 C1100.4,431.4 1104.6,433.9 1107.5,436.0 C1110.4,438.1 1109.6,440.4 1112.5,442.5 C1115.4,444.6 1121.1,447.1 1125.0,448.6 C1128.9,450.1 1136.0,450.5 1136.0,451.3 C1136.0,452.1 1129.7,453.5 1125.0,453.6 C1120.3,453.7 1113.8,452.7 1108.0,452.0 C1102.2,451.3 1095.5,451.1 1090.0,449.2 C1084.5,447.3 1079.7,443.3 1075.0,440.5 C1070.3,437.7 1064.9,434.7 1062.0,432.6 C1059.1,430.5 1055.3,429.0 1057.5,427.8Z" fill="#f0f0f0" filter="url(#b1)"/><polygon points="1075.0,426.0 1096.0,430.0 1108.0,437.0 1100.0,438.0 1085.0,432.0" fill="#c4c4c4" opacity="0.8" filter="url(#b2)"/><polygon points="1092.0,438.0 1110.0,441.0 1126.0,448.4 1136.0,451.4 1125.0,453.8 1106.0,452.0 1090.0,449.4 1082.0,444.5" fill="#9c9c9c" opacity="0.8" filter="url(#b2)"/><polyline points="1098.0,443.5 1116.0,448.6 1134.0,451.2" fill="none" stroke="#f4f4f4" stroke-width="1.8" stroke-linecap="round" stroke-linejoin="round" opacity="0.95" filter="url(#b1)"/><polygon points="1088.0,414.0 1136.0,414.0 1136.0,427.0 1125.0,429.5 1117.5,435.0 1112.0,434.0 1104.0,429.0 1092.0,426.2" fill="#060606" filter="url(#b1)"/><polygon points="1117.5,435.0 1125.0,429.5 1132.5,426.3 1134.0,425.5 1140.5,449.5 1125.0,443.8 1118.8,440.0" fill="#787878"/><polygon points="1100.0,428.0 1118.0,431.5 1117.0,436.0 1118.5,441.0 1125.0,445.0 1139.0,450.4 1125.0,449.2 1113.0,443.0 1108.0,436.5" fill="#101010" filter="url(#b1)"/><polygon points="1125.0,450.5 1137.0,451.0 1143.0,457.0 1145.0,463.0 1125.0,456.0" fill="#2a2a2a" filter="url(#b1)"/><polyline points="1092.0,450.6 1110.0,452.8 1124.0,454.6" fill="none" stroke="#909090" stroke-width="1.4" stroke-linecap="round" stroke-linejoin="round" opacity="0.9" filter="url(#b1)"/>
</g>
</g>
</g>
<g id="dims1"><line x1="53.5" y1="251.7" x2="53.5" y2="401" stroke="#3a3a3a" stroke-width="1.15"/><line x1="1147.8" y1="240.3" x2="1147.8" y2="462.5" stroke="#3a3a3a" stroke-width="1.15"/><line x1="70" y1="258.7" x2="594.7" y2="258.7" stroke="#3a3a3a" stroke-width="1.15"/><line x1="648.8" y1="258.7" x2="1130" y2="258.7" stroke="#3a3a3a" stroke-width="1.15"/><polygon points="54.2,258.7 71.0,252.0 71.0,265.4" fill="#1c1c1c"/><polygon points="1146.6,258.7 1129.8,252.0 1129.8,265.4" fill="#1c1c1c"/><rect x="611.0" y="241.7" width="3.6" height="31.30000000000001" fill="#1a1a1a"/><path d="M623.0,252.5 H629.8000000000001 V273.0 H626.6 V255.5 H623.0 Z" fill="#1a1a1a"/><line x1="520.8" y1="294.7" x2="520.8" y2="409.5" stroke="#3a3a3a" stroke-width="1.15"/><line x1="537" y1="302" x2="792.4" y2="302" stroke="#3a3a3a" stroke-width="1.15"/><line x1="848.6" y1="302" x2="1130" y2="302" stroke="#3a3a3a" stroke-width="1.15"/><polygon points="521.6,302.0 538.4,295.3 538.4,308.7" fill="#1c1c1c"/><polygon points="1146.6,302.0 1129.8,295.3 1129.8,308.7" fill="#1c1c1c"/><rect x="807.8" y="283.8" width="3.5" height="31.19999999999999" fill="#1a1a1a"/><path d="M819.70,299.05 A5.05,5.05 0 0 1 829.65,300.15 C829.65,302.35 828.05,303.75 826.25,305.15 L820.50,313.70 H831.80" fill="none" stroke="#1a1a1a" stroke-width="2.6" stroke-linejoin="miter" stroke-miterlimit="6"/><line x1="611.3" y1="338.7" x2="611.3" y2="412" stroke="#3a3a3a" stroke-width="1.15"/><line x1="628" y1="346" x2="796" y2="346" stroke="#3a3a3a" stroke-width="1.15"/><line x1="1053.7" y1="346" x2="1130" y2="346" stroke="#3a3a3a" stroke-width="1.15"/><polygon points="612.1,346.0 628.9,339.3 628.9,352.7" fill="#1c1c1c"/><polygon points="1146.6,346.0 1129.8,339.3 1129.8,352.7" fill="#1c1c1c"/><circle cx="819" cy="346.2" r="23.7" fill="#cb161a"/><rect x="810.4" y="327.9" width="4.6" height="31.100000000000023" fill="#fff"/><path d="M819.90,342.66 C820.70,340.20 824.10,340.50 824.60,340.50 C829.30,340.50 829.30,348.35 823.60,348.35 C830.30,348.35 830.30,357.90 824.10,357.90 C821.60,357.90 820.00,358.10 819.40,354.32" fill="none" stroke="#fff" stroke-width="3.8"/><text x="885.7" y="353.2" textLength="128.6" lengthAdjust="spacingAndGlyphs" class="rt">Nutzlänge</text><text x="862.4" y="385.9" textLength="175.2" lengthAdjust="spacingAndGlyphs" class="rt">Effective length</text><line x1="19" y1="396.8" x2="65.3" y2="396.8" stroke="#3a3a3a" stroke-width="1.15"/><line x1="19" y1="504.3" x2="65.3" y2="504.3" stroke="#3a3a3a" stroke-width="1.15"/><line x1="22.5" y1="365.3" x2="22.5" y2="381" stroke="#3a3a3a" stroke-width="1.15"/><polygon points="22.5,396.2 15.8,379.0 29.2,379.0" fill="#1c1c1c"/><line x1="22.5" y1="521" x2="22.5" y2="533" stroke="#3a3a3a" stroke-width="1.15"/><polygon points="22.5,505.0 15.6,522.4 29.4,522.4" fill="#1c1c1c"/><circle cx="13.70" cy="451.40" r="8.25" fill="none" stroke="#1a1a1a" stroke-width="2.9"/><rect x="20.00" y="430.2" width="3.4" height="30.7" fill="#1a1a1a"/><path d="M30.65,449.95 A5.30,5.30 0 0 1 41.10,451.05 C41.10,453.25 39.50,454.65 37.70,456.05 L31.50,459.75 H43.20" fill="none" stroke="#1a1a1a" stroke-width="2.5" stroke-linejoin="miter" stroke-miterlimit="6"/><line x1="1131.5" y1="416.3" x2="1177" y2="416.3" stroke="#3a3a3a" stroke-width="1.15"/><line x1="1131.5" y1="507" x2="1177" y2="507" stroke="#3a3a3a" stroke-width="1.15"/><line x1="1170.2" y1="386.7" x2="1170.2" y2="400" stroke="#3a3a3a" stroke-width="1.15"/><polygon points="1170.2,415.2 1163.5,398.2 1176.9,398.2" fill="#1c1c1c"/><line x1="1168.6" y1="524" x2="1168.6" y2="537" stroke="#3a3a3a" stroke-width="1.15"/><polygon points="1168.6,508.6 1161.6,525.6 1175.6,525.6" fill="#1c1c1c"/><circle cx="1168.60" cy="463.30" r="8.60" fill="none" stroke="#1a1a1a" stroke-width="3.0"/><rect x="1175.20" y="442.5" width="3.5" height="30.7" fill="#1a1a1a"/><path d="M1186.9,453.0 H1193.7 V473.0 H1190.5 V456.0 H1186.9 Z" fill="#1a1a1a"/></g>
<g id="dims2"><line x1="53.5" y1="645.5" x2="53.5" y2="822.5" stroke="#3a3a3a" stroke-width="1.15"/><line x1="888.3" y1="636" x2="888.3" y2="885.8" stroke="#3a3a3a" stroke-width="1.15"/><line x1="70" y1="652.3" x2="470.8" y2="652.3" stroke="#3a3a3a" stroke-width="1.15"/><line x1="525.3" y1="652.3" x2="872" y2="652.3" stroke="#3a3a3a" stroke-width="1.15"/><polygon points="54.2,652.3 71.0,645.6 71.0,659.0" fill="#1c1c1c"/><polygon points="887.5,652.3 870.7,645.6 870.7,659.0" fill="#1c1c1c"/><rect x="488.2" y="630.7" width="3.6" height="31.09999999999991" fill="#1a1a1a"/><path d="M500.3,641.5 H507.1 V661.8 H503.90000000000003 V644.5 H500.3 Z" fill="#1a1a1a"/><line x1="520" y1="688.3" x2="520" y2="831" stroke="#3a3a3a" stroke-width="1.15"/><line x1="537" y1="695.6" x2="683.7" y2="695.6" stroke="#3a3a3a" stroke-width="1.15"/><line x1="729.5" y1="695.6" x2="872" y2="695.6" stroke="#3a3a3a" stroke-width="1.15"/><polygon points="521.0,695.6 537.8,688.9 537.8,702.3" fill="#1c1c1c"/><polygon points="887.5,695.6 870.7,688.9 870.7,702.3" fill="#1c1c1c"/><rect x="695.8" y="673.8" width="3.5" height="31.40000000000009" fill="#1a1a1a"/><path d="M708.40,689.65 A5.05,5.05 0 0 1 718.35,690.75 C718.35,692.95 716.75,694.35 714.95,695.75 L709.20,703.90 H720.50" fill="none" stroke="#1a1a1a" stroke-width="2.6" stroke-linejoin="miter" stroke-miterlimit="6"/><line x1="606.2" y1="732.8" x2="606.2" y2="833" stroke="#3a3a3a" stroke-width="1.15"/><line x1="623" y1="739.7" x2="730" y2="739.7" stroke="#3a3a3a" stroke-width="1.15"/><line x1="776" y1="739.7" x2="872" y2="739.7" stroke="#3a3a3a" stroke-width="1.15"/><polygon points="607.0,739.7 623.8,733.0 623.8,746.4" fill="#1c1c1c"/><polygon points="887.5,739.7 870.7,733.0 870.7,746.4" fill="#1c1c1c"/><circle cx="753" cy="739.6" r="23.7" fill="#cb161a"/><rect x="744.4" y="721.3000000000001" width="4.6" height="31.09999999999991" fill="#fff"/><path d="M753.90,736.06 C754.70,733.60 758.10,733.90 758.60,733.90 C763.30,733.90 763.30,741.75 757.60,741.75 C764.30,741.75 764.30,751.30 758.10,751.30 C755.60,751.30 754.00,751.50 753.40,747.72" fill="none" stroke="#fff" stroke-width="3.8"/><text x="688.5" y="793.2" textLength="128.6" lengthAdjust="spacingAndGlyphs" class="rt">Nutzlänge</text><text x="665.2" y="824.9" textLength="175.2" lengthAdjust="spacingAndGlyphs" class="rt">Effective length</text><line x1="19" y1="818" x2="65.3" y2="818" stroke="#3a3a3a" stroke-width="1.15"/><line x1="19" y1="925.2" x2="65.3" y2="925.2" stroke="#3a3a3a" stroke-width="1.15"/><line x1="22.5" y1="786.7" x2="22.5" y2="802" stroke="#3a3a3a" stroke-width="1.15"/><polygon points="22.5,817.4 15.8,800.2 29.2,800.2" fill="#1c1c1c"/><line x1="22.5" y1="942" x2="22.5" y2="954.2" stroke="#3a3a3a" stroke-width="1.15"/><polygon points="22.5,926.0 15.6,943.4 29.4,943.4" fill="#1c1c1c"/><circle cx="13.70" cy="872.20" r="8.25" fill="none" stroke="#1a1a1a" stroke-width="2.9"/><rect x="20.00" y="851.6" width="3.4" height="30.099999999999977" fill="#1a1a1a"/><path d="M30.65,871.25 A5.30,5.30 0 0 1 41.10,872.35 C41.10,874.55 39.50,875.95 37.70,877.35 L31.50,880.75 H43.20" fill="none" stroke="#1a1a1a" stroke-width="2.5" stroke-linejoin="miter" stroke-miterlimit="6"/><line x1="868.3" y1="839.2" x2="914.2" y2="839.2" stroke="#3a3a3a" stroke-width="1.15"/><line x1="868.3" y1="929.3" x2="914.2" y2="929.3" stroke="#3a3a3a" stroke-width="1.15"/><line x1="907.2" y1="809.2" x2="907.2" y2="823" stroke="#3a3a3a" stroke-width="1.15"/><polygon points="907.2,838.2 900.5,821.2 913.9,821.2" fill="#1c1c1c"/><line x1="905.6" y1="947" x2="905.6" y2="959" stroke="#3a3a3a" stroke-width="1.15"/><polygon points="905.6,931.0 898.6,948.0 912.6,948.0" fill="#1c1c1c"/><circle cx="905.10" cy="886.30" r="8.60" fill="none" stroke="#1a1a1a" stroke-width="3.0"/><rect x="911.70" y="865.6" width="3.5" height="30.599999999999977" fill="#1a1a1a"/><path d="M923.3,875.8 H930.1 V896.2 H926.9 V878.8 H923.3 Z" fill="#1a1a1a"/></g>
</svg></body></html>
